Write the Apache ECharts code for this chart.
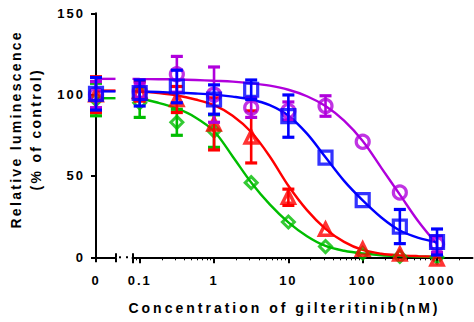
<!DOCTYPE html>
<html>
<head>
<meta charset="utf-8">
<script src="https://cdn.jsdelivr.net/npm/echarts@6/dist/echarts.min.js"></script>
<style>
  html, body { margin: 0; padding: 0; background: #fff; }
  #chart { width: 474px; height: 322px; }
  #chart text { letter-spacing: 2px; }
</style>
</head>
<body>
<div id="chart"></div>
<script>
// Dose-response of four cell lines to gilteritinib (luminescence, % of untreated control).
// The untreated (0 nM) sample sits on its own short axis segment left of the log axis.

const doses = [0.1, 0.316, 1, 3.16, 10, 31.6, 100, 316, 1000];       // nM
const doseTicks = [0.1, 1, 10, 100, 1000];
const doseTickLabels = ['0.1', '1', '10', '100', '1000'];
const zeroTickLabel = '0';

// mean and error at [0 nM, ...doses]
const purpleMean = [100, 102, 112.5, 100, 92, 90, 93, 71, 39.8, 8];
const purpleErr  = [8, 5, 11, 17, 6, 5.5, 6.3, 0, 0, 5];
const blueMean   = [100.5, 101, 105, 97, 103, 86.8, 61.3, 35.2, 18.9, 9.4];
const blueErr    = [10, 8, 10, 9, 6, 13, 0, 0, 10.5, 8];
const redMean    = [100, 102, 97, 82, 74, 36.9, 17.2, 5, 2, -1];
const redErr     = [11, 6, 8, 16, 16, 5, 0, 0, 0, 0];
const greenMean  = [97, 95, 83, 77.6, 45.9, 21.7, 6.6, 2.5, 0.5, 0];
const greenErr   = [10, 9, 8, 10, 0, 0, 0, 0, 0, 0];

// fitted curves, sampled along the log axis
const curveDoses = [0.08, 0.1, 0.178, 0.316, 0.562, 1, 1.78, 3.16, 5.62, 10, 17.8, 31.6, 56.2, 100, 178, 316, 562, 1000];
const purpleFit = [109.7, 109.6, 109.5, 109.3, 109, 108.5, 108, 107, 105.5, 103, 99, 93, 84, 71.5, 55, 38.5, 22, 8];
const blueFit   = [102, 101.9, 101.6, 101.2, 100.7, 100, 98.8, 97, 93.5, 87, 76, 61.5, 47, 35, 24.5, 16.5, 12, 9.3];
const redFit    = [102.5, 102, 101, 99.5, 97, 93.5, 87, 77, 62, 44, 29, 17.5, 9.5, 4.5, 2.2, 1.2, 0.7, 0.4];
const greenFit  = [97.8, 97.5, 95, 91.5, 86, 77.5, 62, 46, 32.5, 21.5, 13, 7, 4, 2.3, 1.3, 0.8, 0.4, 0.2];

const xTitle = 'Concentration of gilteritinib(nM)';
const yTitle = 'Relative luminescence\n(% of control)';

const logMin = Math.log10(0.08);
const logMax = Math.log10(3000);
const minorTicks = [];
for (let d = -2; d <= 3; d++) {
  for (let k = 2; k <= 9; k++) {
    const v = Math.log10(k) + d;
    if (v > logMin && v < logMax) minorTicks.push(v);
  }
}

const FONT = 'Liberation Sans, Arial, sans-serif';
const AXIS_W = 2;

const sets = [
  { name: 'green',  color: '#00bd00', symbol: 'diamond',  size: 12, bw: 3,   mean: greenMean,  err: greenErr,  fit: greenFit,  z: 2 },
  { name: 'red',    color: '#ff0000', symbol: 'triangle', size: 12, bw: 3.5, mean: redMean,    err: redErr,    fit: redFit,    z: 3 },
  { name: 'purple', color: '#b000dc', symbol: 'circle',   size: 13, bw: 3.2, mean: purpleMean, err: purpleErr, fit: purpleFit, z: 4 },
  { name: 'blue',   color: '#0000ff', symbol: 'rect',     size: 13, bw: 3.2, mean: blueMean,   err: blueErr,   fit: blueFit,   z: 5 }
];

function errorBarRenderer(color) {
  return function (params, api) {
    const x = api.value(0), m = api.value(1), e = api.value(2);
    if (!e) return null;
    const top = api.coord([x, m + e]);
    const bot = api.coord([x, m - e]);
    const hw = 6;
    return {
      type: 'group',
      children: [
        { type: 'line', shape: { x1: top[0], y1: top[1], x2: bot[0], y2: bot[1] }, style: { stroke: color, lineWidth: 2.6 } },
        { type: 'line', shape: { x1: top[0] - hw, y1: top[1], x2: top[0] + hw, y2: top[1] }, style: { stroke: color, lineWidth: 3.2 } },
        { type: 'line', shape: { x1: bot[0] - hw, y1: bot[1], x2: bot[0] + hw, y2: bot[1] }, style: { stroke: color, lineWidth: 3.2 } }
      ]
    };
  };
}

const series = [];
sets.forEach(s => {
  const fitData = curveDoses.map((c, i) => [Math.log10(c), s.fit[i]]);
  const pts = doses.map((c, i) => [Math.log10(c), s.mean[i + 1], s.err[i + 1]]);
  const zeroPt = [[0, s.mean[0], s.err[0]]];
  // fitted curve on the log segment
  series.push({
    type: 'line', xAxisIndex: 1, yAxisIndex: 1, data: fitData, smooth: 0.35,
    showSymbol: false, symbol: 'none', clip: false, z: 1,
    lineStyle: { color: s.color, width: 2.4 }
  });
  // plateau of the curve on the zero-dose segment
  series.push({
    type: 'line', xAxisIndex: 0, yAxisIndex: 0, data: [[0, s.fit[0]], [1, s.fit[0]]],
    showSymbol: false, symbol: 'none', clip: false, z: 1,
    lineStyle: { color: s.color, width: 2.4 }
  });
  // error bars
  series.push({
    type: 'custom', xAxisIndex: 1, yAxisIndex: 1, data: pts, clip: false, z: s.z,
    encode: { x: 0, y: 1 }, renderItem: errorBarRenderer(s.color)
  });
  series.push({
    type: 'custom', xAxisIndex: 0, yAxisIndex: 0, data: zeroPt, clip: false, z: s.z,
    encode: { x: 0, y: 1 }, renderItem: errorBarRenderer(s.color)
  });
  // symbols
  const symStyle = { color: 'rgba(255,255,255,0)', borderColor: s.color, borderWidth: s.bw };
  series.push({
    type: 'scatter', xAxisIndex: 1, yAxisIndex: 1, data: pts.map(p => [p[0], p[1]]),
    symbol: s.symbol, symbolSize: s.size, clip: false, z: s.z, itemStyle: symStyle
  });
  series.push({
    type: 'scatter', xAxisIndex: 0, yAxisIndex: 0, data: zeroPt.map(p => [p[0], p[1]]),
    symbol: s.symbol, symbolSize: s.size, clip: false, z: s.z, itemStyle: symStyle
  });
});

const labelStyle = { color: '#000', fontFamily: FONT, fontWeight: 'bold', fontSize: 13 };
const lineStyle = { color: '#000', width: AXIS_W };

const chart = echarts.init(document.getElementById('chart'), null, { renderer: 'svg' });
chart.setOption({
  animation: false,
  backgroundColor: '#fff',
  grid: [
    { left: 96, top: 13.3, width: 19.5, height: 244 },
    { left: 132.5, top: 13.3, width: 340, height: 244 }
  ],
  xAxis: [
    { gridIndex: 0, type: 'value', position: 'bottom', min: 0, max: 1,
      axisLine: { show: true, lineStyle: lineStyle },
      axisTick: { show: true, customValues: [0, 1], length: 5, lineStyle: { width: 2, color: '#000' } },
      axisLabel: { show: true, customValues: [0], formatter: () => zeroTickLabel, margin: 17, ...labelStyle },
      splitLine: { show: false } },
    { gridIndex: 1, type: 'value', position: 'bottom', min: logMin, max: logMax,
      axisLine: { show: true, lineStyle: lineStyle },
      axisTick: { show: true, customValues: [logMin].concat(doseTicks.map(Math.log10)), length: 6, lineStyle: { width: 2, color: '#000' } },
      axisLabel: { show: true, customValues: doseTicks.map(Math.log10), margin: 17, ...labelStyle,
        formatter: v => doseTickLabels[doseTicks.findIndex(t => Math.abs(Math.log10(t) - v) < 1e-6)] },
      splitLine: { show: false },
      name: xTitle, nameLocation: 'middle', nameGap: 44,
      nameTextStyle: { ...labelStyle, fontSize: 14, padding: [0, 36, 0, 0] } },
    // break marks pointing up into the plot
    { gridIndex: 0, type: 'value', position: 'bottom', min: 0, max: 1,
      axisLine: { show: false },
      axisTick: { show: true, inside: true, customValues: [1], length: 4, lineStyle: { width: 2, color: '#000' } },
      axisLabel: { show: false }, splitLine: { show: false } },
    { gridIndex: 1, type: 'value', position: 'bottom', min: logMin, max: logMax,
      axisLine: { show: false },
      axisTick: { show: true, inside: true, customValues: [logMin], length: 4, lineStyle: { width: 2, color: '#000' } },
      axisLabel: { show: false }, splitLine: { show: false } },
    // minor log ticks
    { gridIndex: 1, type: 'value', position: 'bottom', min: logMin, max: logMax,
      axisLine: { show: false },
      axisTick: { show: true, customValues: minorTicks, length: 3, lineStyle: { width: 1, color: '#000' } },
      axisLabel: { show: false }, splitLine: { show: false } }
  ],
  yAxis: [
    { gridIndex: 0, type: 'value', min: 0, max: 150, interval: 50,
      axisLine: { show: true, lineStyle: lineStyle },
      axisTick: { show: true, length: 5, lineStyle: { width: 2, color: '#000' } },
      axisLabel: { margin: 11, ...labelStyle },
      splitLine: { show: false },
      name: yTitle, nameLocation: 'middle', nameGap: 50,
      nameTextStyle: { ...labelStyle, fontSize: 14, lineHeight: 20, padding: [0, 0, 0, 12] } },
    { gridIndex: 1, type: 'value', min: 0, max: 150, interval: 50, show: false }
  ],
  series: series
});

// dotted gap between the two axis segments
const dotA = chart.convertToPixel({ xAxisIndex: 0, yAxisIndex: 0 }, [1.23, 0]);
const dotB = chart.convertToPixel({ xAxisIndex: 0, yAxisIndex: 0 }, [1.59, 0]);
chart.setOption({
  graphic: [dotA, dotB].map(p => ({
    type: 'rect', shape: { x: p[0] - 1, y: p[1] - 1, width: 2, height: 2 }, style: { fill: '#000' }
  }))
});

// wider tracking on the axis titles
function applyTracking() {
  document.querySelectorAll('#chart text').forEach(t => {
    const s = t.textContent || '';
    if (s.startsWith('Concentration')) t.style.letterSpacing = '3px';
    else if (s.startsWith('Relative') || s.startsWith('(%')) t.style.letterSpacing = '2.3px';
  });
}
applyTracking();
chart.on('finished', applyTracking);
setTimeout(applyTracking, 0);
</script>
</body>
</html>
